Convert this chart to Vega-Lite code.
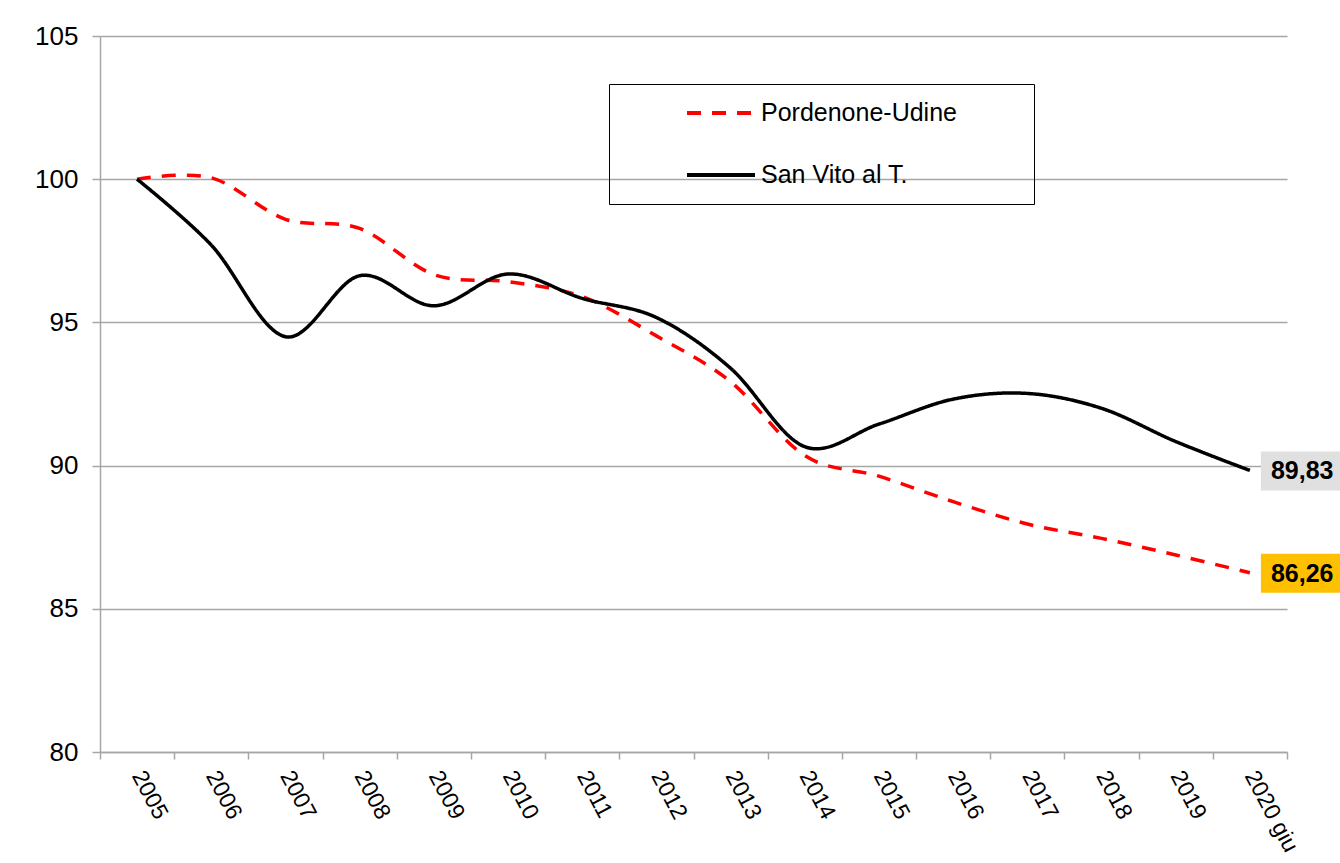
{
  "$schema": "https://vega.github.io/schema/vega-lite/v6.json",
  "width": 1187,
  "height": 716,
  "autosize": {"type": "none"},
  "padding": {"left": 100, "top": 36, "right": 53, "bottom": 111},
  "background": "white",
  "config": {
    "font": "Liberation Sans",
    "view": {"stroke": null},
    "locale": {"number": {"decimal": ",", "thousands": ".", "grouping": [3], "currency": ["", " €"]}}
  },
  "data": {
    "values": [
      {"anno": "2005", "serie": "Pordenone-Udine", "valore": 100},
      {"anno": "2006", "serie": "Pordenone-Udine", "valore": 100.05},
      {"anno": "2007", "serie": "Pordenone-Udine", "valore": 98.6},
      {"anno": "2008", "serie": "Pordenone-Udine", "valore": 98.28},
      {"anno": "2009", "serie": "Pordenone-Udine", "valore": 96.67},
      {"anno": "2010", "serie": "Pordenone-Udine", "valore": 96.42},
      {"anno": "2011", "serie": "Pordenone-Udine", "valore": 95.9},
      {"anno": "2012", "serie": "Pordenone-Udine", "valore": 94.53},
      {"anno": "2013", "serie": "Pordenone-Udine", "valore": 92.93},
      {"anno": "2014", "serie": "Pordenone-Udine", "valore": 90.35},
      {"anno": "2015", "serie": "Pordenone-Udine", "valore": 89.63},
      {"anno": "2016", "serie": "Pordenone-Udine", "valore": 88.74},
      {"anno": "2017", "serie": "Pordenone-Udine", "valore": 87.96},
      {"anno": "2018", "serie": "Pordenone-Udine", "valore": 87.46},
      {"anno": "2019", "serie": "Pordenone-Udine", "valore": 86.88},
      {"anno": "2020 giu", "serie": "Pordenone-Udine", "valore": 86.26},
      {"anno": "2005", "serie": "San Vito al T.", "valore": 100},
      {"anno": "2006", "serie": "San Vito al T.", "valore": 97.7},
      {"anno": "2007", "serie": "San Vito al T.", "valore": 94.5},
      {"anno": "2008", "serie": "San Vito al T.", "valore": 96.63},
      {"anno": "2009", "serie": "San Vito al T.", "valore": 95.58},
      {"anno": "2010", "serie": "San Vito al T.", "valore": 96.69},
      {"anno": "2011", "serie": "San Vito al T.", "valore": 95.84},
      {"anno": "2012", "serie": "San Vito al T.", "valore": 95.17},
      {"anno": "2013", "serie": "San Vito al T.", "valore": 93.4},
      {"anno": "2014", "serie": "San Vito al T.", "valore": 90.66},
      {"anno": "2015", "serie": "San Vito al T.", "valore": 91.45},
      {"anno": "2016", "serie": "San Vito al T.", "valore": 92.32},
      {"anno": "2017", "serie": "San Vito al T.", "valore": 92.52},
      {"anno": "2018", "serie": "San Vito al T.", "valore": 92.0},
      {"anno": "2019", "serie": "San Vito al T.", "valore": 90.84},
      {"anno": "2020 giu", "serie": "San Vito al T.", "valore": 89.83}
    ]
  },
  "encoding": {
    "x": {
      "field": "anno",
      "type": "ordinal",
      "scale": {
        "type": "band",
        "paddingInner": 0,
        "paddingOuter": 0,
        "domain": ["2005", "2006", "2007", "2008", "2009", "2010", "2011", "2012", "2013", "2014", "2015", "2016", "2017", "2018", "2019", "2020 giu"]
      },
      "axis": {
        "title": null,
        "tickBand": "extent",
        "grid": false,
        "domainColor": "#A6A6A6",
        "domainWidth": 1.5,
        "tickColor": "#A6A6A6",
        "tickWidth": 1.5,
        "tickSize": 7,
        "labelAngle": 62,
        "labelAlign": "left",
        "labelBaseline": "middle",
        "labelPadding": 13,
        "labelFont": "Liberation Sans",
        "labelFontSize": 23,
        "labelColor": "#000000",
        "labelOverlap": false
      }
    },
    "y": {
      "field": "valore",
      "type": "quantitative",
      "scale": {"domain": [80, 105], "nice": false, "zero": false},
      "axis": {
        "title": null,
        "values": [80, 85, 90, 95, 100, 105],
        "grid": true,
        "gridColor": "#A6A6A6",
        "gridWidth": 1.5,
        "domainColor": "#A6A6A6",
        "domainWidth": 1.5,
        "tickColor": "#A6A6A6",
        "tickWidth": 1.5,
        "tickSize": 8,
        "labelPadding": 14,
        "labelFont": "Liberation Sans",
        "labelFontSize": 26,
        "labelColor": "#000000"
      }
    }
  },
  "layer": [
    {
      "transform": [{"filter": "datum.anno === '2020 giu'"}],
      "mark": {"type": "point", "filled": true, "opacity": 1, "strokeWidth": 0, "size": 400, "shape": "M1.1,-1.9L9.5,-1.9L9.5,2L1.1,2Z"},
      "encoding": {
        "fill": {
          "field": "serie",
          "type": "nominal",
          "scale": {"domain": ["San Vito al T.", "Pordenone-Udine"], "range": ["#E0E0E0", "#FFC000"]},
          "legend": null
        }
      }
    },
    {
      "mark": {"type": "line", "interpolate": "cardinal", "strokeWidth": 3.5},
      "encoding": {
        "color": {
          "field": "serie",
          "type": "nominal",
          "scale": {"domain": ["Pordenone-Udine", "San Vito al T."], "range": ["#FF0000", "#000000"]},
          "legend": {
            "title": " ",
            "titleOrient": "right",
            "titlePadding": 62,
            "titleFontSize": 25,
            "orient": "none",
            "legendX": 509,
            "legendY": 48,
            "strokeColor": "#000000",
            "padding": 15,
            "symbolType": "stroke",
            "symbolSize": 4624,
            "symbolStrokeWidth": 4,
            "symbolOffset": 61,
            "labelOffset": 4,
            "labelFont": "Liberation Sans",
            "labelFontSize": 25,
            "labelColor": "#000000",
            "labelLimit": 400,
            "clipHeight": 28,
            "rowPadding": 34
          }
        },
        "strokeDash": {
          "field": "serie",
          "type": "nominal",
          "scale": {"domain": ["Pordenone-Udine", "San Vito al T."], "range": [[14, 11], [1, 0]]},
          "legend": {
            "title": " ",
            "titleOrient": "right",
            "titlePadding": 62,
            "titleFontSize": 25,
            "orient": "none",
            "legendX": 509,
            "legendY": 48,
            "strokeColor": "#000000",
            "padding": 15,
            "symbolType": "stroke",
            "symbolSize": 4624,
            "symbolStrokeWidth": 4,
            "symbolOffset": 61,
            "labelOffset": 4,
            "labelFont": "Liberation Sans",
            "labelFontSize": 25,
            "labelColor": "#000000",
            "labelLimit": 400,
            "clipHeight": 28,
            "rowPadding": 34
          }
        }
      }
    },
    {
      "transform": [{"filter": "datum.anno === '2020 giu'"}],
      "mark": {"type": "text", "align": "left", "baseline": "middle", "dx": 21, "dy": 1, "font": "Liberation Sans", "fontSize": 25, "fontWeight": "bold", "color": "#000000"},
      "encoding": {
        "text": {"field": "valore", "type": "quantitative", "format": ".2f"}
      }
    }
  ]
}
